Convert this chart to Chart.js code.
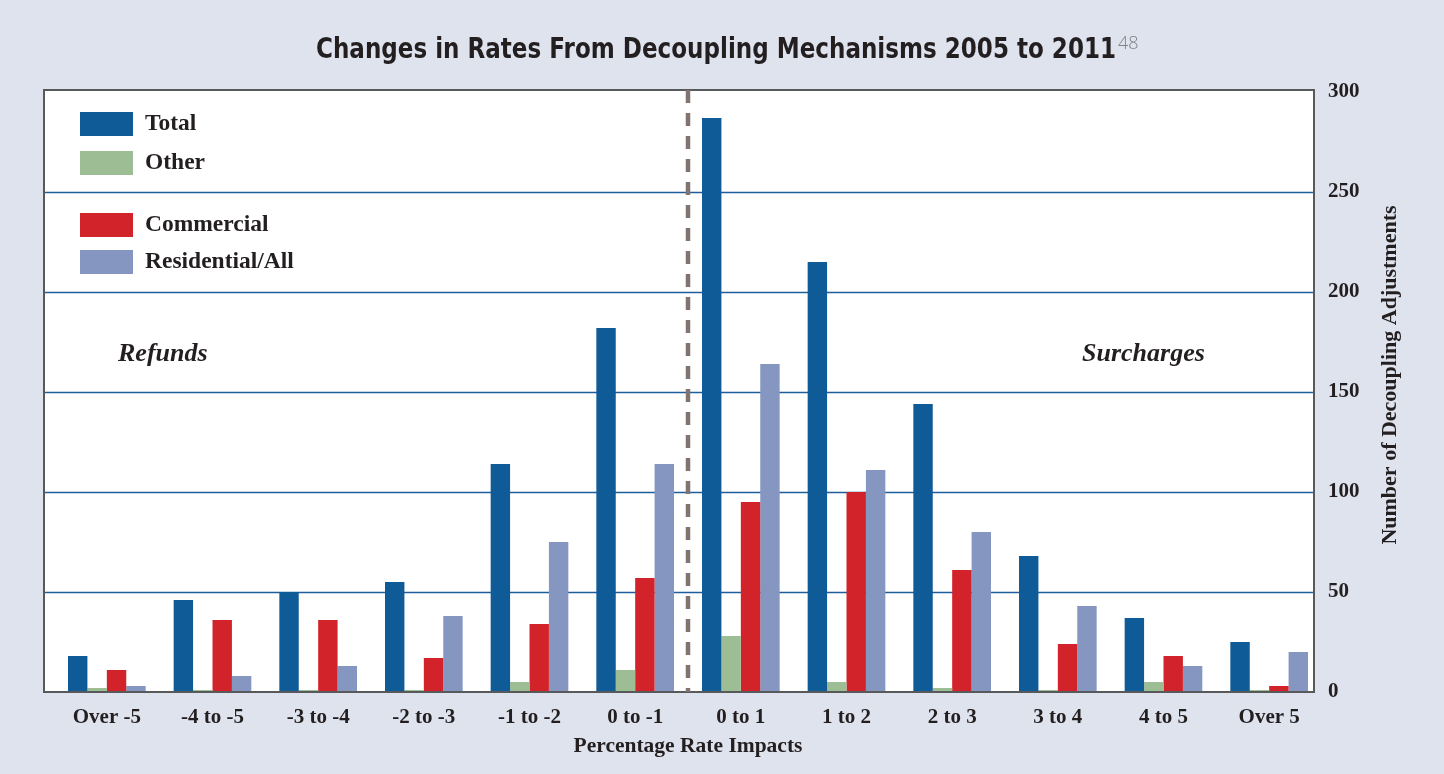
<!DOCTYPE html>
<html>
<head>
<meta charset="utf-8">
<title>Changes in Rates From Decoupling Mechanisms 2005 to 2011</title>
<script src="https://cdn.jsdelivr.net/npm/chart.js@4/dist/chart.umd.min.js"></script>
<style>
  html, body { margin: 0; padding: 0; background: #dfe3ee; }
  #wrap { width: 1444px; height: 774px; }
</style>
</head>
<body>
<div id="wrap"><canvas id="myChart" width="1444" height="774"></canvas></div>
<script>
// DONNEES
const categories = ['Over -5', '-4 to -5', '-3 to -4', '-2 to -3', '-1 to -2', '0 to -1',
                    '0 to 1', '1 to 2', '2 to 3', '3 to 4', '4 to 5', 'Over 5'];
const total       = [18, 46, 50, 55, 114, 182, 287, 215, 144, 68, 37, 25];
const other       = [2, 1, 1, 1, 5, 11, 28, 5, 2, 1, 5, 1];
const commercial  = [11, 36, 36, 17, 34, 57, 95, 100, 61, 24, 18, 3];
const residential = [3, 8, 13, 38, 75, 114, 164, 111, 80, 43, 13, 20];
const yTicks = [0, 50, 100, 150, 200, 250, 300];

const seriesNames = ['Total', 'Other', 'Commercial', 'Residential/All'];
const seriesColors = ['#0f5b97', '#9dbe95', '#d3232a', '#8597c1'];

const textColor = '#231f20';
const serif = "'Liberation Serif', 'Times New Roman', serif";
const bg = '#dfe3ee';

// the white box sits a little left of the category axis in the original
const FRAME_L = 10;
const FRAME_R = 8;

const decor = {
  id: 'decor',
  beforeDraw(chart) {
    const { ctx, chartArea: a, scales: { y } } = chart;
    const fl = a.left - FRAME_L, fr = a.right - FRAME_R;
    ctx.save();
    ctx.fillStyle = bg;
    ctx.fillRect(0, 0, chart.width, chart.height);
    ctx.fillStyle = '#ffffff';
    ctx.fillRect(fl, a.top - 2, fr - fl, a.bottom - a.top + 2);

    // horizontal grid lines
    ctx.strokeStyle = '#1d5e9b';
    ctx.lineWidth = 1.5;
    y.ticks.forEach(t => {
      if (t.value === 0 || t.value === 300) return;
      const py = Math.round(y.getPixelForValue(t.value)) + 0.5;
      ctx.beginPath();
      ctx.moveTo(fl, py);
      ctx.lineTo(fr, py);
      ctx.stroke();
    });
    ctx.restore();
  },
  afterDatasetsDraw(chart) {
    const { ctx, chartArea: a, scales: { x } } = chart;
    const fl = a.left - FRAME_L, fr = a.right - FRAME_R;
    ctx.save();

    // frame
    ctx.strokeStyle = '#58595b';
    ctx.lineWidth = 2;
    ctx.strokeRect(fl, a.top - 2, fr - fl, a.bottom - a.top + 2);

    // dashed separator between refunds and surcharges
    const dx = (x.getPixelForTick(5) + x.getPixelForTick(6)) / 2;
    ctx.strokeStyle = '#807370';
    ctx.lineWidth = 4.5;
    ctx.setLineDash([13, 10]);
    ctx.beginPath();
    ctx.moveTo(dx, a.top - 2);
    ctx.lineTo(dx, a.bottom);
    ctx.stroke();
    ctx.setLineDash([]);

    // legend
    const legendY = [112, 151, 213, 250];
    ctx.font = 'bold 23.5px ' + serif;
    ctx.textBaseline = 'middle';
    ctx.textAlign = 'left';
    seriesNames.forEach((name, i) => {
      ctx.fillStyle = seriesColors[i];
      ctx.fillRect(fl + 36, legendY[i], 53, 24);
      ctx.fillStyle = textColor;
      ctx.fillText(name, fl + 101, legendY[i] + 12);
    });

    // region labels
    ctx.font = 'italic bold 26px ' + serif;
    ctx.fillText('Refunds', 118, 354);
    ctx.fillText('Surcharges', 1082, 354);

    // y axis title, reading bottom to top
    ctx.font = 'bold 22px ' + serif;
    ctx.textAlign = 'center';
    ctx.translate(1390, 375);
    ctx.rotate(-Math.PI / 2);
    ctx.fillText('Number of Decoupling Adjustments', 0, 0);
    ctx.setTransform(1, 0, 0, 1, 0, 0);

    // main title with footnote mark, squeezed to the original width
    const main = 'Changes in Rates From Decoupling Mechanisms 2005 to 2011';
    ctx.textBaseline = 'alphabetic';
    ctx.textAlign = 'left';
    ctx.font = "bold 28px 'DejaVu Sans', 'Open Sans', sans-serif";
    const w = ctx.measureText(main).width;
    const sx = 800 / w;
    ctx.fillStyle = textColor;
    ctx.translate(316, 58);
    ctx.scale(sx, 1);
    ctx.fillText(main, 0, 0);
    ctx.setTransform(1, 0, 0, 1, 0, 0);
    ctx.font = "300 18px 'Open Sans', sans-serif";
    ctx.fillStyle = '#808285';
    ctx.fillText('48', 1118, 49);
    ctx.restore();
  }
};

const ctx = document.getElementById('myChart').getContext('2d');
new Chart(ctx, {
  type: 'bar',
  data: {
    labels: categories,
    datasets: [total, other, commercial, residential].map((d, i) => ({
      label: seriesNames[i],
      data: d,
      backgroundColor: seriesColors[i],
      borderWidth: 0,
      barPercentage: 1,
      categoryPercentage: 0.735
    }))
  },
  options: {
    responsive: false,
    animation: false,
    layout: { padding: { left: 54, top: 92, right: 0, bottom: 0 } },
    plugins: {
      legend: { display: false },
      tooltip: { enabled: false }
    },
    scales: {
      x: {
        grid: { display: false, drawTicks: false },
        border: { display: false },
        ticks: {
          color: textColor,
          font: { family: serif, size: 21, weight: 'bold' },
          padding: 13,
          maxRotation: 0,
          autoSkip: false
        },
        title: {
          display: true,
          text: 'Percentage Rate Impacts',
          color: textColor,
          font: { family: serif, size: 21.5, weight: 'bold' },
          padding: { top: 0, bottom: 15 }
        },
        afterFit(s) { s.height = 82; }
      },
      y: {
        position: 'right',
        min: 0,
        max: 300,
        afterBuildTicks(s) { s.ticks = yTicks.map(v => ({ value: v })); },
        grid: { display: false, drawTicks: false },
        border: { display: false },
        ticks: {
          color: textColor,
          font: { family: serif, size: 21, weight: 'bold' },
          padding: 6
        },
        afterFit(s) { s.width = 122; }
      }
    }
  },
  plugins: [decor]
});
</script>
</body>
</html>
